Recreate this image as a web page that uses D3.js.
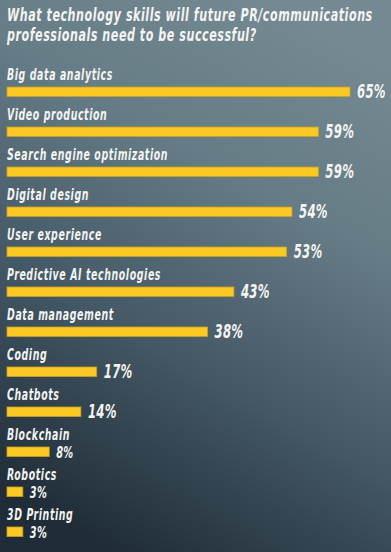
<!DOCTYPE html>
<html>
<head>
<meta charset="utf-8">
<script src="https://cdn.jsdelivr.net/npm/d3@7"></script>
<style>
  html, body { margin: 0; padding: 0; background: #2f404c; }
  svg { display: block; }
  text { font-family: "DejaVu Sans Condensed", "DejaVu Sans", sans-serif;
         font-stretch: condensed; font-weight: bold; font-style: italic; fill: #f4f4f2; }
</style>
</head>
<body>
<div id="chart"></div>
<script>
  // survey answers, top to bottom
  var skills = ["Big data analytics", "Video production", "Search engine optimization",
                "Digital design", "User experience", "Predictive AI technologies",
                "Data management", "Coding", "Chatbots", "Blockchain", "Robotics",
                "3D Printing"];
  var shares = [65, 59, 59, 54, 53, 43, 38, 17, 14, 8, 3, 3];

  var titleLines = ["What technology skills will future PR/communications",
                    "professionals need to be successful?"];

  var width  = 391;
  var height = 552;

  var svg = d3.select("#chart").append("svg")
    .attr("width",  width)
    .attr("height", height);

  // background gradient: lighter at the top right, dark at the bottom left
  var defs = svg.append("defs");
  var grad = defs.append("linearGradient")
    .attr("id", "bg")
    .attr("x1", "0.7").attr("y1", "0")
    .attr("x2", "0.3").attr("y2", "1");
  grad.append("stop").attr("offset", "0%").attr("stop-color", "#748991");
  grad.append("stop").attr("offset", "30%").attr("stop-color", "#667c86");
  grad.append("stop").attr("offset", "65%").attr("stop-color", "#435764");
  grad.append("stop").attr("offset", "100%").attr("stop-color", "#202d38");

  svg.append("rect")
    .attr("width",  width)
    .attr("height", height)
    .attr("fill",   "url(#bg)");

  // the reference uses a narrow display face; squeeze the
  // available font horizontally so the title spans ~366px
  function place(sel, xf, yf, sx) {
    sel.attr("transform", function(d, i) {
      return "translate(" + xf(d, i) + "," + yf(d, i) + ") scale(" + sx + ",1)";
    });
  }

  // title
  var title = svg.selectAll("text.title")
    .data(titleLines)
    .enter()
    .append("text")
    .attr("class", "title")
    .attr("font-size", 18)
    .attr("letter-spacing", 0.8)
    .text(function(d) { return d; });

  var squeeze = 366 / title.node().getComputedTextLength();

  place(title,
        function() { return 7; },
        function(d, i) { return 21 + i * 20; },
        squeeze);

  // scales
  var x = d3.scaleLinear()
    .domain([0, 65])
    .range([0, 343]);

  var y = d3.scaleBand()
    .domain(skills)
    .range([87, 536.5])
    .paddingInner(0.7625)
    .paddingOuter(0);

  var left = 7;

  var rows = svg.selectAll("g.row")
    .data(skills)
    .enter()
    .append("g")
    .attr("class", "row")
    .attr("transform", function(d) { return "translate(" + left + "," + y(d) + ")"; });

  rows.append("rect")
    .attr("x",            0)
    .attr("y",            0)
    .attr("width",        function(d, i) { return x(shares[i]); })
    .attr("height",       y.bandwidth())
    .attr("fill",         "#fbc924")
    .attr("stroke",       "#c7a126")
    .attr("stroke-width", 0.8);

  var labels = rows.append("text")
    .attr("font-size",      15.2)
    .attr("letter-spacing", 0.9)
    .text(function(d) { return d; });
  place(labels, function() { return 0; }, function() { return -7; }, squeeze);

  var values = rows.append("text")
    .attr("font-size",      function(d, i) { return shares[i] < 10 ? 16 : 19; })
    .attr("letter-spacing", 0.4)
    .text(function(d, i) { return shares[i] + "%"; });
  place(values,
        function(d, i) { return x(shares[i]) + 7; },
        function() { return y.bandwidth() + 1.5; },
        squeeze);
</script>
</body>
</html>
